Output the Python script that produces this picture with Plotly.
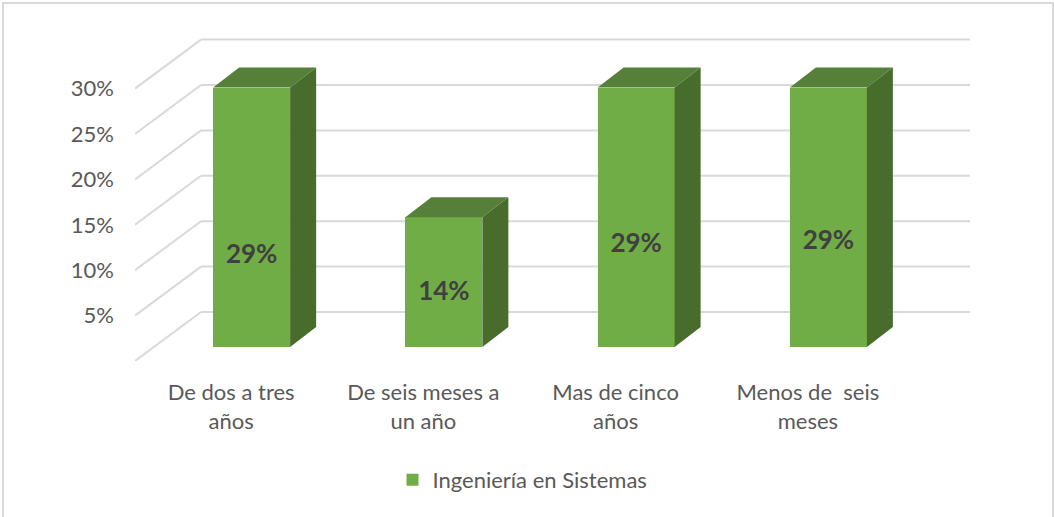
import plotly.graph_objects as go

# Data
categories = ["De dos a tres<br>años", "De seis meses a<br>un año", "Mas de cinco<br>años", "Menos de  seis<br>meses"]
values = [28.57, 14.29, 28.57, 28.57]
value_labels = ["29%", "14%", "29%", "29%"]
label_heights = [11.5, 7.45, 12.7, 13.0]
series_name = "Ingeniería en Sistemas"
tick_values = [5, 10, 15, 20, 25, 30]
tick_labels = ["5%", "10%", "15%", "20%", "25%", "30%"]

# Layout / 3D projection (style)
W, H = 1054, 517
ML, MR, MT, MB = 135, 84, 30, 156
Y_PX = 9.08
X_PX = (W - ML - MR - 66) / 4
WALL_DX, WALL_DY = 66 / X_PX, 49 / Y_PX
BAR_W = 77 / X_PX
FRONT_DX, FRONT_DY = 20.5 / X_PX, 14 / Y_PX
DEPTH_DX, DEPTH_DY = 26 / X_PX, 20 / Y_PX
FONT = "Lato, Carlito, Calibri, sans-serif"
TEXT = "#595959"
GRID = "#D9D9D9"
FRONT, TOP, SIDE = "#70AD47", "#56803A", "#486C2C"

xs = list(range(len(categories)))
x_lo, x_hi = -0.5, len(categories) - 0.5

fig = go.Figure()

# Front faces
fig.add_bar(
    x=[i + FRONT_DX for i in xs], y=values, base=[FRONT_DY] * len(xs), width=BAR_W,
    marker=dict(color=FRONT, line=dict(width=0)), name=series_name, showlegend=True,
)

# Top and side faces
for i, v in zip(xs, values):
    x0 = i + FRONT_DX - BAR_W / 2
    x1 = i + FRONT_DX + BAR_W / 2
    y0 = FRONT_DY
    y1 = FRONT_DY + v
    fig.add_scatter(
        x=[x0, x1, x1 + DEPTH_DX, x0 + DEPTH_DX, x0],
        y=[y1, y1, y1 + DEPTH_DY, y1 + DEPTH_DY, y1],
        mode="lines", fill="toself", fillcolor=TOP, line=dict(width=0),
        showlegend=False, hoverinfo="skip",
    )
    fig.add_scatter(
        x=[x1, x1 + DEPTH_DX, x1 + DEPTH_DX, x1, x1],
        y=[y0, y0 + DEPTH_DY, y1 + DEPTH_DY, y1, y0],
        mode="lines", fill="toself", fillcolor=SIDE, line=dict(width=0),
        showlegend=False, hoverinfo="skip",
    )

# Data labels
fig.add_scatter(
    x=[i + FRONT_DX for i in xs], y=label_heights, mode="text", text=value_labels,
    textposition="middle center",
    textfont=dict(family=FONT, size=26, color="#404040", weight="bold"),
    showlegend=False, hoverinfo="skip",
)

# Gridlines: side wall diagonals and back wall, under the bars
grid_levels = [0] + tick_values
shapes = []
line = dict(color=GRID, width=2)
for v in grid_levels:
    shapes.append(dict(type="line", xref="x", yref="y", layer="below", line=line,
                       x0=x_lo, y0=v, x1=x_lo + WALL_DX, y1=v + WALL_DY))
    shapes.append(dict(type="line", xref="x", yref="y", layer="below", line=line,
                       x0=x_lo + WALL_DX, y0=v + WALL_DY, x1=x_hi + WALL_DX, y1=v + WALL_DY))

# Outer frame (top, left and right only)
pw, ph = W - ML - MR, H - MT - MB
def px(x): return (x - ML) / pw
def py(y): return 1 - (y - MT) / ph
shapes.append(dict(
    type="path", xref="paper", yref="paper", layer="below",
    line=dict(color="#D9D9D9", width=2),
    path=f"M {px(3)} {py(517)} L {px(3)} {py(3)} L {px(1053)} {py(3)} L {px(1053)} {py(517)}",
))

fig.update_layout(
    width=W, height=H, autosize=False,
    margin=dict(l=ML, r=MR, t=MT, b=MB),
    paper_bgcolor="white", plot_bgcolor="white",
    shapes=shapes,
    font=dict(family=FONT, color=TEXT, size=22),
    bargap=0,
    xaxis=dict(
        range=[x_lo, x_hi + WALL_DX], tickvals=xs, ticktext=categories,
        showgrid=False, zeroline=False, showline=False, ticks="", ticklabelstandoff=16,
        tickfont=dict(family=FONT, size=22, color=TEXT), tickangle=0,
    ),
    yaxis=dict(
        range=[0, ph / Y_PX], tickvals=tick_values, ticktext=tick_labels,
        showgrid=False, zeroline=False, showline=False, ticks="", ticklabelstandoff=20,
        tickfont=dict(family=FONT, size=22, color=TEXT),
    ),
    legend=dict(
        orientation="h", x=px(522.5), y=py(480), xanchor="center", yanchor="middle",
        font=dict(family=FONT, size=22, color=TEXT), bgcolor="rgba(0,0,0,0)", itemwidth=30,
    ),
)

fig.write_html("out.html", config=dict(displayModeBar=False), post_script="document.body.style.margin='0';")
